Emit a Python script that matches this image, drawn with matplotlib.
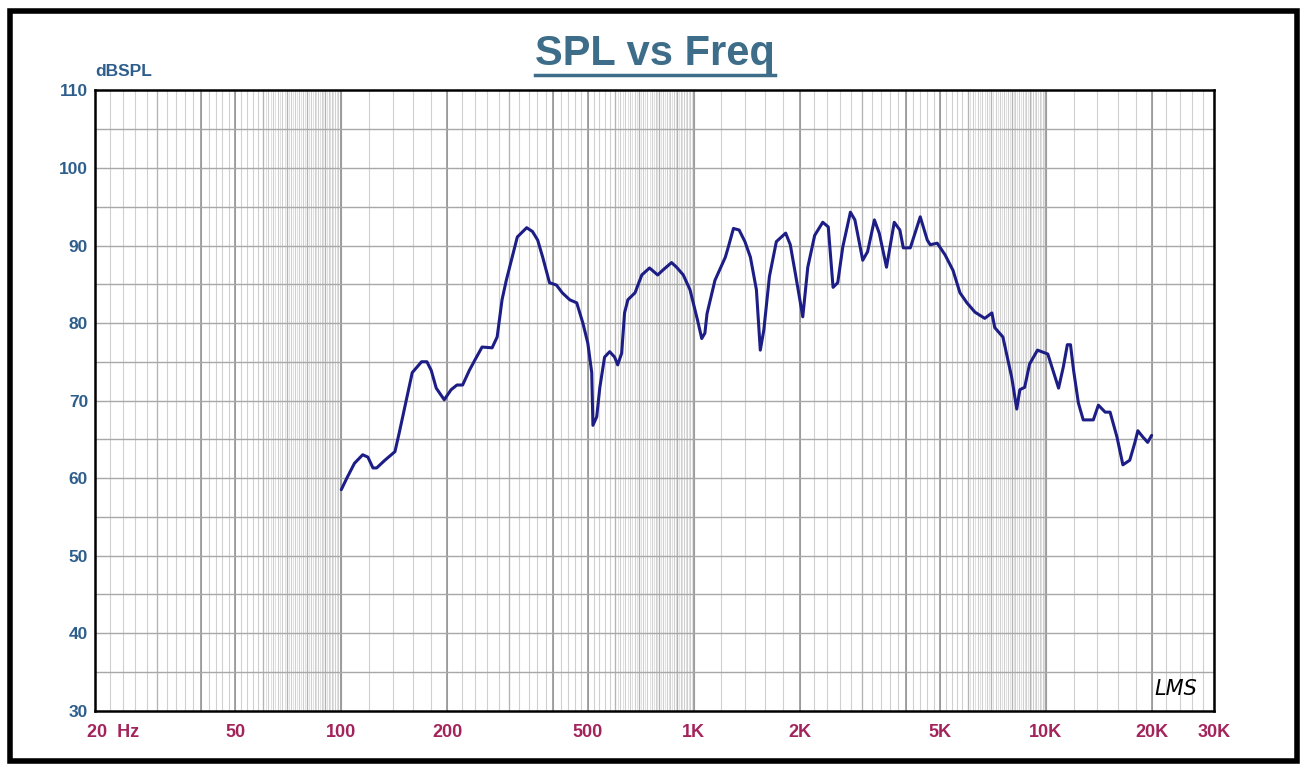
import numpy as np
import matplotlib.pyplot as plt
from matplotlib.ticker import NullLocator
from matplotlib.transforms import ScaledTranslation
from matplotlib.lines import Line2D

# data
freq_hz = [100, 104, 109, 115, 119, 123, 126, 133, 142, 146, 153, 159, 169, 175, 180,
           186, 196, 205, 213, 221, 231, 242, 251, 268, 277, 286, 294, 304, 316, 336,
           349, 361, 373, 390, 408, 424, 445, 466, 485, 501, 514, 518, 531, 542, 559,
           578, 597, 609, 625, 637, 651, 682, 713, 750, 791, 817, 866, 895, 935, 977,
           1026, 1055, 1077, 1092, 1150, 1231, 1255, 1298, 1347, 1399, 1450, 1508, 1547,
           1583, 1642, 1718, 1826, 1882, 1945, 2042, 2110, 2207, 2327, 2412, 2489, 2566,
           2652, 2788, 2871, 3022, 3119, 3261, 3366, 3530, 3713, 3852, 3939, 4124, 4401,
           4608, 4697, 4917, 5175, 5451, 5705, 5972, 6294, 6710, 7028, 7164, 7553, 8000,
           8270, 8440, 8708, 8992, 9470, 10130, 10530, 10870, 11220, 11510, 11750, 11990,
           12370, 12770, 13640, 14100, 14740, 15220, 15920, 16550, 17310, 17880, 18250,
           18850, 19460, 19970]
spl_db = [58.5, 60.1, 61.9, 63.0, 62.7, 61.3, 61.3, 62.3, 63.4, 65.8, 70.1, 73.6, 75.0, 75.0, 73.9,
          71.6, 70.1, 71.4, 72.0, 72.0, 73.9, 75.6, 76.9, 76.8, 78.2, 83.0, 85.5, 88.1, 91.1, 92.3,
          91.8, 90.7, 88.5, 85.2, 84.9, 83.9, 83.0, 82.6, 80.0, 77.4, 73.6, 66.8, 67.9, 71.7, 75.6,
          76.3, 75.6, 74.6, 76.1, 81.3, 83.0, 83.9, 86.2, 87.1, 86.2, 86.8, 87.8, 87.2, 86.2, 84.3,
          80.4, 78.0, 78.7, 81.2, 85.5, 88.5, 89.8, 92.2, 92.0, 90.5, 88.5, 84.3, 76.5,
          79.1, 86.0, 90.5, 91.6, 90.1, 86.4, 80.8, 87.2, 91.3, 93.0, 92.4, 84.6, 85.2,
          89.8, 94.3, 93.3, 88.1, 89.2, 93.3, 91.6, 87.2, 93.0, 92.0, 89.7, 89.7, 93.7,
          90.7, 90.1, 90.3, 88.8, 86.8, 83.9, 82.6, 81.4, 80.6, 81.3, 79.4, 78.2, 73.0,
          68.9, 71.4, 71.7, 74.7, 76.5, 76.0, 73.6, 71.6, 74.4, 77.2, 77.2, 73.9,
          69.7, 67.5, 67.5, 69.4, 68.5, 68.5, 65.3, 61.7, 62.3, 64.5, 66.1,
          65.3, 64.6, 65.5]

x_ticks = [20, 50, 100, 200, 500, 1000, 2000, 5000, 10000, 20000, 30000]
x_labels = ['20  Hz', '50', '100', '200', '500', '1K', '2K', '5K', '10K', '20K', '30K']
y_ticks = list(range(30, 111, 10))

plt.rcParams['font.family'] = ['Liberation Sans', 'DejaVu Sans']

fig = plt.figure(figsize=(13.04, 7.65), dpi=100)
ax = fig.add_axes([0.0729, 0.0712, 0.858, 0.8105])
ax.set_xscale('log')
ax.set_xlim(20, 30000)
ax.set_ylim(30, 110)

# LMS style log grid
dense = np.concatenate([np.arange(6 * 10**k, 10**(k + 1) + 1, 10**(k - 1)) for k in range(1, 5)])
for f in dense:
    if 20 <= f <= 30000:
        ax.axvline(f, color='#e2e2e2', lw=0.7, zorder=0)
fine = np.concatenate([np.arange(10**k, 10**(k + 1) + 1, 2 * 10**(k - 1)) for k in range(1, 5)])
for f in fine:
    if 20 <= f <= 30000:
        ax.axvline(f, color='#d0d0d0', lw=0.8, zorder=0)
for k in range(1, 5):
    for m in [3, 6, 7, 8, 9]:
        if 20 <= m * 10**k <= 30000:
            ax.axvline(m * 10**k, color='#b4b4b4', lw=0.9, zorder=0)
    for m in [1, 2, 4, 5]:
        if 20 <= m * 10**k <= 30000:
            ax.axvline(m * 10**k, color='#8c8c8c', lw=1.1, zorder=0)
for y in range(35, 110, 5):
    ax.axhline(y, color='#a8a8a8', lw=1.0, zorder=0)

ax.plot(freq_hz, spl_db, color='#1d1d86', lw=2.2, zorder=3,
        solid_joinstyle='round', solid_capstyle='round')

ax.set_xticks(x_ticks, x_labels)
ax.xaxis.set_minor_locator(NullLocator())
ax.set_yticks(y_ticks)
ax.tick_params(axis='x', length=0, pad=10, labelsize=13, labelcolor='#A3245C')
ax.tick_params(axis='y', length=0, pad=5, labelsize=12.5, labelcolor='#2E5E8C')
for lbl in ax.get_xticklabels() + ax.get_yticklabels():
    lbl.set_fontweight('bold')
first = ax.get_xticklabels()[0]
first.set_horizontalalignment('left')
first.set_transform(first.get_transform() + ScaledTranslation(-0.08, 0, fig.dpi_scale_trans))

for s in ax.spines.values():
    s.set_linewidth(1.8)
    s.set_color('black')

fig.text(95 / 1304, 1 - 72 / 765, 'dBSPL', ha='left', va='center', fontsize=12.5,
         fontweight='bold', color='#2E5E8C')

ax.text(0.966, 0.035, 'LMS', transform=ax.transAxes, ha='center', va='center',
        fontsize=15, style='italic', family='DejaVu Sans', color='black')

title = fig.text(0.502, 1 - 65 / 765, 'SPL vs Freq', ha='center', va='baseline',
                 fontsize=30, fontweight='bold', color='#3E6D89')
fig.canvas.draw()
bb = title.get_window_extent()
uy = (bb.y0 - 1) / fig.bbox.height
fig.add_artist(Line2D([bb.x0 / fig.bbox.width, bb.x1 / fig.bbox.width], [uy, uy],
                      transform=fig.transFigure, color='#3E6D89', lw=2.5))

# outer frame
fig.add_artist(plt.Rectangle((10 / 1304, 4 / 765), 1287 / 1304, 750 / 765,
                             transform=fig.transFigure, fill=False, lw=4, ec='black'))

fig.savefig('out.png', dpi=100)
